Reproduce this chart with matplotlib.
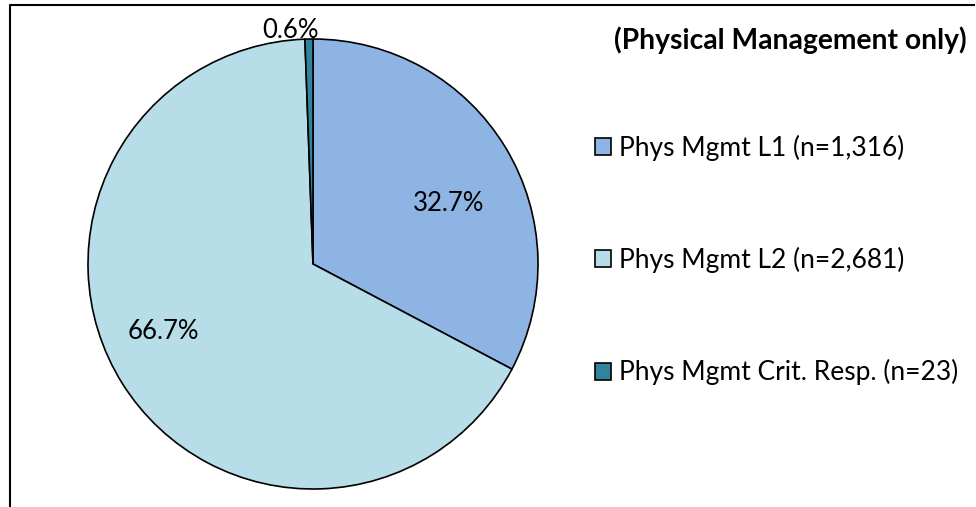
import matplotlib
matplotlib.use("Agg")
import matplotlib.pyplot as plt
from matplotlib.lines import Line2D

plt.rcParams['font.family'] = ['Lato', 'DejaVu Sans']

categories = ["Phys Mgmt L1 (n=1,316)", "Phys Mgmt L2 (n=2,681)", "Phys Mgmt Crit. Resp. (n=23)"]
counts = [1316, 2681, 23]
pct_labels = ["32.7%", "66.7%", "0.6%"]
colors = ["#8EB4E3", "#B7DEE8", "#31849B"]
title = "(Physical Management only)"

W, H = 976, 507
fig = plt.figure(figsize=(W / 100, H / 100), dpi=100)

cx, cy, r = 313, 264, 225
ax = fig.add_axes([(cx - r) / W, (H - cy - r) / H, 2 * r / W, 2 * r / H])
wedges, _ = ax.pie(counts, colors=colors, startangle=90, counterclock=False,
                   wedgeprops=dict(edgecolor='black', linewidth=1.2))
ax.set_xlim(-1, 1)
ax.set_ylim(-1, 1)
ax.set_aspect('equal')
ax.axis('off')

label_pos = [(0.604, 0.271), (-0.667, -0.302), (-0.10, 1.04)]
for (x, y), t in zip(label_pos, pct_labels):
    ax.text(x, y, t, ha='center', va='center', fontsize=18.5, color='black', clip_on=False)

fig.text(790 / W, 1 - 40 / H, title, ha='center', va='center', fontsize=20.3, fontweight='bold')

leg = fig.legend(wedges, categories, loc='upper left',
                 bbox_to_anchor=(595 / W, 1 - 135 / H), frameon=False,
                 fontsize=19, handlelength=0.61, handleheight=0.61,
                 handletextpad=0.3, labelspacing=3.26, borderpad=0, borderaxespad=0)

fig.add_artist(Line2D([9.5 / W, 9.5 / W, 974 / W], [0, 1 - 5 / H, 1 - 5 / H],
                      transform=fig.transFigure, color='black', linewidth=1.5))

fig.savefig("out.png", dpi=100)
